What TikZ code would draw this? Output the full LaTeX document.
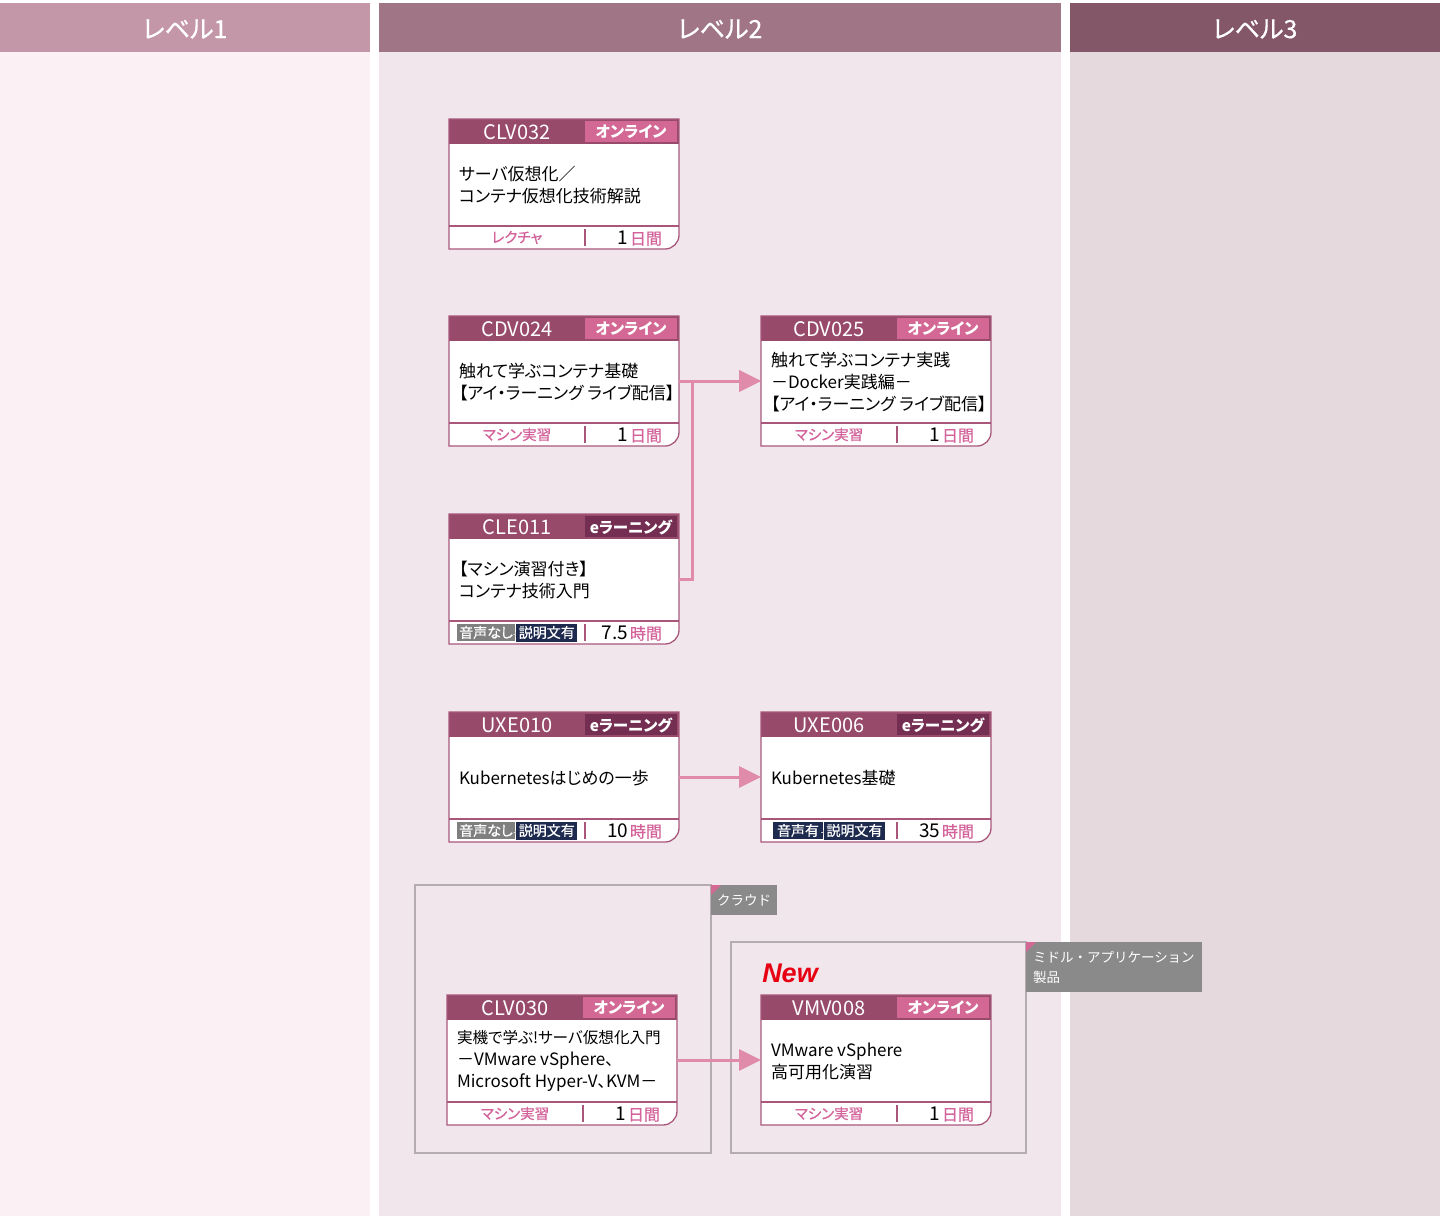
\documentclass[tikz,border=0pt]{standalone}
\usepackage{fontspec}
\setmainfont{Noto Sans CJK JP}[RawFeature=+palt]
\newfontfamily\plainjp{Noto Sans CJK JP}
\newfontfamily\medjp{Noto Sans CJK JP}[RawFeature=+palt, FakeBold=0.6]
\newfontfamily\newfnt{Liberation Sans}
\usetikzlibrary{arrows.meta}
\definecolor{lonehead}{HTML}{C497A8}
\definecolor{lonebody}{HTML}{FBF0F3}
\definecolor{ltwohead}{HTML}{A07585}
\definecolor{ltwobody}{HTML}{F0E6EB}
\definecolor{lthreehead}{HTML}{835668}
\definecolor{lthreebody}{HTML}{E5D9DE}
\definecolor{cardhead}{HTML}{984A6B}
\definecolor{cardborder}{HTML}{A8577B}
\definecolor{onlinetag}{HTML}{D36894}
\definecolor{eltag}{HTML}{732E51}
\definecolor{footpink}{HTML}{D3639A}
\definecolor{arrowpink}{HTML}{E08BAA}
\definecolor{grpline}{HTML}{B4ACB0}
\definecolor{grplabel}{HTML}{8A8A8A}
\definecolor{bdggray}{HTML}{7F7F7F}
\definecolor{bdgnavy}{HTML}{1E2A4E}
\definecolor{newred}{HTML}{E60012}
\tikzset{
  every node/.style={inner sep=0pt, outer sep=0pt},
  headtxt/.style={text=white, font=\medjp\fontsize{25}{25}\selectfont},
  codetxt/.style={text=white, font=\fontsize{20}{20}\selectfont},
  tagtxt/.style={text=white, font=\fontsize{15.5}{15.5}\selectfont\bfseries},
  titletxt/.style={text=black, align=left, font=\fontsize{17}{22}\selectfont},
  foottxt/.style={font=\medjp\fontsize{14.5}{14.5}\selectfont},
  cardline/.style={draw=cardborder, line width=1.3pt},
  conn/.style={draw=arrowpink, line width=3pt, -{Triangle[length=22pt,width=21pt]}},
  grpbox/.style={draw=grpline, line width=1.2pt},
  grplbl/.style={fill=grplabel, text=white, font=\plainjp\fontsize{13.5}{20}\selectfont},
  cardbox/.style={minimum width=230pt, minimum height=130pt, anchor=north west},
}
\newcommand{\pinktxt}[1]{{\color{footpink}#1}}
\newcommand{\frdur}[2]{{\fontsize{19}{19}\selectfont #1}\,{\color{footpink}\medjp\fontsize{16}{16}\selectfont #2}}
\newcommand{\bdgbox}[2]{{\setlength{\fboxsep}{2.5pt}\colorbox{#1}{\color{white}\fontsize{14}{14}\selectfont #2}}}
\newcommand{\bdgpair}[2]{\bdgbox{bdggray}{#1}\kern-2pt{\color{white!70!gray}\fontsize{9}{9}\selectfont +}\kern-2pt\bdgbox{bdgnavy}{#2}}
\newcommand{\bdgpairnavy}[2]{\bdgbox{bdgnavy}{\makebox[45pt]{#1}}\kern-2pt{\color{white!70!gray}\fontsize{9}{9}\selectfont +}\kern-2pt\bdgbox{bdgnavy}{#2}}
\newcommand{\coursecard}[9]{%
\begin{scope}[shift={(#2,#3)}]
  \path[fill=white] (0,0) -- (230,0) -- (230,116) arc[start angle=0,end angle=90,radius=14] -- (0,130) -- cycle;
  \fill[cardhead] (0,0) rectangle (230,25);
  \fill[#5] (136,2) rectangle (228,23);
  \node[codetxt] (#1-code) at (68,13) {#4};
  \node[tagtxt] (#1-tag) at (182,13) {#6};
  \node[titletxt, anchor=west] (#1-title) at (10,66) {#7};
  \draw[cardline] (0,107) -- (230,107);
  \draw[cardline] (136,110) -- (136,127);
  \node[foottxt] (#1-fl) at (68,118.5) {#8};
  \node[anchor=base east] (#1-fr) at (213,125.5) {#9};
  \draw[cardline] (0,0) -- (230,0) -- (230,116) arc[start angle=0,end angle=90,radius=14] -- (0,130) -- cycle;
  \node[cardbox] (#1) at (0,0) {};
\end{scope}}
\begin{document}
\begin{tikzpicture}[x=1pt, y=-1pt]
\useasboundingbox (0,0) rectangle (1440,1216);
\fill[white] (0,0) rectangle (1440,1216);
% columns
\fill[lonebody] (0,52) rectangle (370,1216);
\fill[lonehead] (0,3) rectangle (370,52);
\fill[ltwobody] (379,52) rectangle (1061,1216);
\fill[ltwohead] (379,3) rectangle (1061,52);
\fill[lthreebody] (1070,52) rectangle (1440,1216);
\fill[lthreehead] (1070,3) rectangle (1440,52);
\node[headtxt] (hone) at (185,29) {レベル1};
\node[headtxt] (htwo) at (720,29) {レベル2};
\node[headtxt] (hthree) at (1255,29) {レベル3};
% groups
\draw[grpbox] (415,885) rectangle (711,1153);
\node[grplbl, anchor=north west, minimum width=66pt, minimum height=30pt] (cloudlbl) at (711,885) {クラウド};
\fill[onlinetag] (711,885) -- (721,885) -- (711,895) -- cycle;
\draw[grpbox] (731,942) rectangle (1026,1153);
\node[grplbl, anchor=north west, minimum width=176pt, minimum height=50pt, text width=162pt, align=left] (midlbl) at (1026,942) {ミドル・アプリケーション\\製品};
\fill[onlinetag] (1026,942) -- (1036,942) -- (1026,952) -- cycle;
\node[text=newred, font=\newfnt\fontsize{27}{27}\selectfont\bfseries\itshape] (newmark) at (790,973) {New};
% cards
\coursecard{clv032}{449}{119}{CLV032}{onlinetag}{オンライン}{サーバ仮想化／\\コンテナ仮想化技術解説}{\pinktxt{レクチャ}}{\frdur{1}{日間}}
\coursecard{cdv024}{449}{316}{CDV024}{onlinetag}{オンライン}{触れて学ぶコンテナ基礎\\【アイ・ラーニング ライブ配信】}{\pinktxt{マシン実習}}{\frdur{1}{日間}}
\coursecard{cdv025}{761}{316}{CDV025}{onlinetag}{オンライン}{触れて学ぶコンテナ実践\\－Docker実践編－\\【アイ・ラーニング ライブ配信】}{\pinktxt{マシン実習}}{\frdur{1}{日間}}
\coursecard{cle011}{449}{514}{CLE011}{eltag}{eラーニング}{【マシン演習付き】\\コンテナ技術入門}{\bdgpair{音声なし}{説明文有}}{\frdur{7.5}{時間}}
\coursecard{uxe010}{449}{712}{UXE010}{eltag}{eラーニング}{Kubernetesはじめの一歩}{\bdgpair{音声なし}{説明文有}}{\frdur{10}{時間}}
\coursecard{uxe006}{761}{712}{UXE006}{eltag}{eラーニング}{Kubernetes基礎}{\bdgpairnavy{音声有}{説明文有}}{\frdur{35}{時間}}
\coursecard{clv030}{447}{995}{CLV030}{onlinetag}{オンライン}{{\fontsize{15.6}{22}\selectfont 実機で学ぶ!サーバ仮想化入門}\\－VMware vSphere、\\Microsoft Hyper-V、KVM－}{\pinktxt{マシン実習}}{\frdur{1}{日間}}
\coursecard{vmv008}{761}{995}{VMV008}{onlinetag}{オンライン}{VMware vSphere\\高可用化演習}{\pinktxt{マシン実習}}{\frdur{1}{日間}}
% connectors
\draw[conn] (cdv024.east) -- (cdv025.west);
\draw[conn] (cle011.east) -- ++(13,0) |- (cdv025.west);
\draw[conn] (uxe010.east) -- (uxe006.west);
\draw[conn] (clv030.east) -- (vmv008.west);
\end{tikzpicture}
\end{document}
